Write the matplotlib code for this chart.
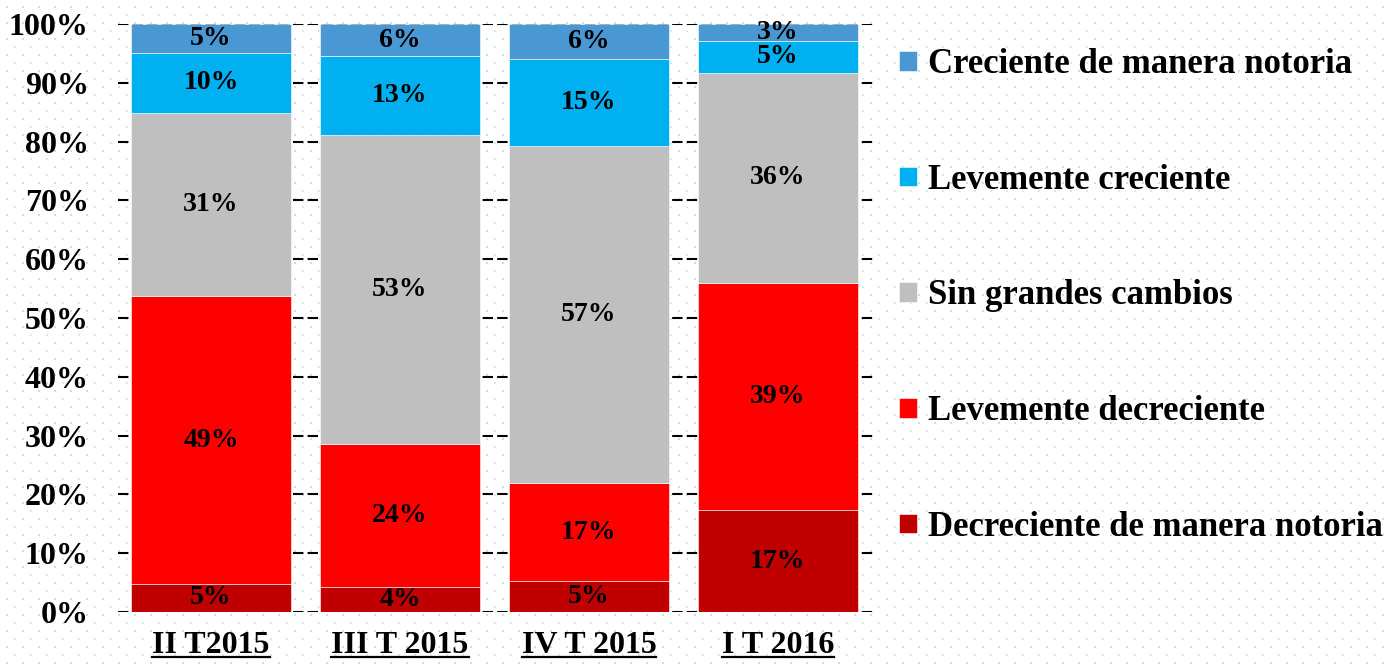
import numpy as np
import matplotlib
matplotlib.use("Agg")
from matplotlib import pyplot as plt
from matplotlib.lines import Line2D

plt.rcParams["font.family"] = ["Liberation Serif", "DejaVu Serif"]
plt.rcParams["font.weight"] = "bold"

categorias = ["II T2015", "III T 2015", "IV T 2015", "I T 2016"]
series = ["Decreciente de manera notoria", "Levemente decreciente",
          "Sin grandes cambios", "Levemente creciente",
          "Creciente de manera notoria"]
colores = ["#c00000", "#ff0000", "#bfbfbf", "#00b0f0", "#4a98d3"]

decreciente_notoria = [4.8, 4.3, 5.3, 17.3]
levemente_decreciente = [48.9, 24.3, 16.6, 38.7]
sin_cambios = [31.2, 52.6, 57.3, 35.7]
levemente_creciente = [10.2, 13.3, 14.8, 5.4]
creciente_notoria = [4.9, 5.5, 6.0, 2.9]

valores = [decreciente_notoria, levemente_decreciente, sin_cambios,
           levemente_creciente, creciente_notoria]

W, H = 1385, 666
fig = plt.figure(figsize=(W / 100, H / 100), dpi=100)
fig.patch.set_facecolor("white")

# fondo punteado
bg = fig.add_axes([0, 0, 1, 1], zorder=-5)
bg.set_xlim(0, W)
bg.set_ylim(H, 0)
bg.axis("off")
xa, ya = np.meshgrid(np.arange(7, W, 16), np.arange(7, H, 16))
xb, yb = np.meshgrid(np.arange(15, W, 16), np.arange(15, H, 16))
bg.scatter(xa.ravel(), ya.ravel(), s=2.0, marker="s", color="#c4e2ec", lw=0)
bg.scatter(xb.ravel(), yb.ravel(), s=1.5, marker="s", color="#d6ecec", lw=0)

ax = fig.add_axes([118 / W, 1 - 612 / H, (873 - 118) / W, (612 - 24) / H])
ax.set_facecolor("none")

x = np.arange(len(categorias))
base = np.zeros(len(categorias))
barras = []
for nombre, vals, c in zip(series, valores, colores):
    b = ax.bar(x, vals, 0.847, bottom=base, color=c, label=nombre,
               edgecolor="white", linewidth=0.4, zorder=2)
    ax.bar_label(b, labels=["{:.0f}%".format(v) for v in vals],
                 label_type="center", fontsize=20, fontweight="bold")
    base += np.array(vals)
    barras.append(b)

ax.set_xlim(-0.492, 3.503)
ax.set_ylim(0, 100)
ax.set_yticks(np.arange(0, 101, 10))
ax.set_yticklabels(["{}%".format(v) for v in range(0, 101, 10)])
ax.set_xticks(x)
ax.set_xticklabels(categorias)
ax.tick_params(axis="y", length=0, pad=21, labelsize=23)
ax.tick_params(axis="x", length=0, pad=14, labelsize=23)
for s in ax.spines.values():
    s.set_visible(False)
ax.yaxis.grid(True, color="black", linestyle=(0, (5, 2)), linewidth=1.5, zorder=0)
ax.set_axisbelow(True)

handles = barras[::-1]
leg = ax.legend(handles, series[::-1], loc="center left",
                bbox_to_anchor=(882 / W, 1 - 296 / H), bbox_transform=fig.transFigure,
                frameon=False, fontsize=25, handlelength=0.5, handleheight=0.5,
                handletextpad=0.32, labelspacing=2.38, borderpad=0)

# subrayado de las categorias
fig.canvas.draw()
r = fig.canvas.get_renderer()
for t in ax.get_xticklabels():
    bb = t.get_window_extent(r)
    y0 = bb.y0 + 3
    fig.add_artist(Line2D([bb.x0 / W, bb.x1 / W], [y0 / H, y0 / H],
                          color="black", lw=1.6, transform=fig.transFigure))

fig.savefig("out.png", dpi=100)
